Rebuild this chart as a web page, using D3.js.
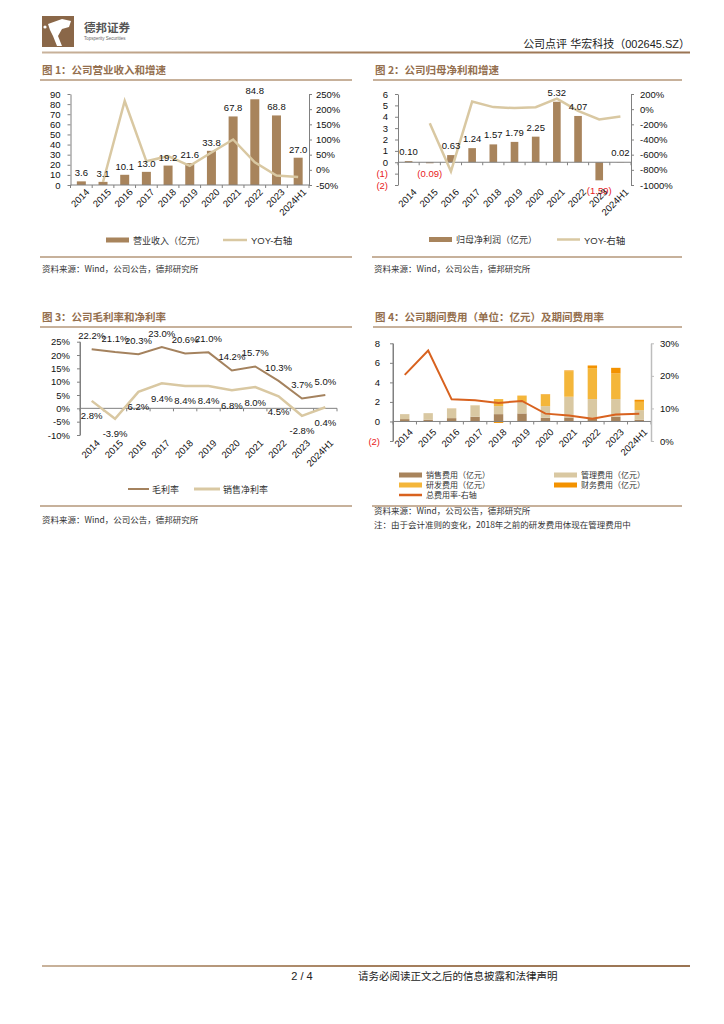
<!DOCTYPE html>
<html><head><meta charset="utf-8">
<script src="https://cdn.jsdelivr.net/npm/d3@7"></script>
<style>
body{margin:0;background:#fff}
svg{display:block}
text{font-family:"Liberation Sans","Noto Sans CJK SC",sans-serif}
.cjk{font-family:"Noto Sans CJK SC","Liberation Sans",sans-serif}
</style>
</head><body>
<svg id="c" width="724" height="1024"></svg>
<script>
// ---------- data ----------
const years = ["2014","2015","2016","2017","2018","2019","2020","2021","2022","2023","2024H1"];
const revenue = [3.6,3.1,10.1,13.0,19.2,21.6,33.8,67.8,84.8,68.8,27.0];
const revenueYoy = [null,-40,227,28,45,13,57,100,25,-19,-24];
const netProfit = [0.10,-0.09,0.63,1.24,1.57,1.79,2.25,5.32,4.07,-1.59,0.02];
const netProfitYoy = [null,-185,-820,100,27,14,26,140,-23,-135,-97];
const grossMargin = [22.2,21.1,20.3,23.0,20.6,21.0,14.2,15.7,10.3,3.7,5.0];
const netMargin = [2.8,-3.9,6.2,9.4,8.4,8.4,6.8,8.0,4.5,-2.8,0.4];
const sellingExp = [0.24,0.17,0.34,0.48,0.75,0.82,0.38,0.41,0.30,0.48,0.17];
const adminExp = [0.51,0.68,0.99,1.16,0.82,1.18,1.19,2.12,1.99,1.81,0.99];
const rdExp = [0,0,0,0,0.72,0.63,1.19,2.62,3.17,2.62,0.85];
const finExp = [-0.05,-0.02,0.01,0.01,-0.15,0.02,0.04,0.07,0.27,0.58,0.21];
const expenseRate = [20.3,27.8,12.8,12.5,11.7,12.3,8.4,7.8,6.8,8.1,8.4];

const revTicksL = [0,10,20,30,40,50,60,70,80,90];
const revTicksR = [-50,0,50,100,150,200,250];
const profTicksL = [-2,-1,0,1,2,3,4,5,6];
const profTicksR = [-1000,-800,-600,-400,-200,0,200];
const marginTicks = [-10,-5,0,5,10,15,20,25];
const expTicksL = [-2,0,2,4,6,8];
const expTicksR = [0,10,20,30];

// ---------- styles ----------
const C = {
  bar:"#A8845C", tan:"#D9C8A2", title:"#946F4E", rule:"#B4977A",
  rd:"#F4B63A", fin:"#F39200", rate:"#D8621F", red:"#E8201A", axis:"#808080"
};
const svg = d3.select("#c");

// ---------- header ----------
const grad = svg.append("defs").append("linearGradient").attr("id","hg");
grad.append("stop").attr("offset","0").attr("stop-color","#C9B39C");
grad.append("stop").attr("offset","0.5").attr("stop-color","#A5805E");
grad.append("stop").attr("offset","1").attr("stop-color","#9A7453");

const logo = svg.append("g");
logo.append("rect").attr("x",42).attr("y",16).attr("width",32).attr("height",31).attr("fill","#8A6748");
logo.append("path").attr("d","M48,24 L62,19 L71,21 L69,27 L62,29 L58,36 L62,46 L57,46 L53,36 L50,30 Z").attr("fill","#fff");
logo.append("circle").attr("cx",45).attr("cy",27).attr("r",1.6).attr("fill","#fff");
svg.append("text").attr("class","cjk").attr("x",84).attr("y",32).attr("font-size",11.5).attr("font-weight","bold").attr("fill","#555").text("德邦证券");
svg.append("text").attr("x",84).attr("y",40).attr("font-size",4.5).attr("fill","#666").text("Topsperity Securities");
svg.append("text").attr("x",690).attr("y",48).attr("text-anchor","end").attr("font-size",11).attr("fill","#222").text("公司点评 华宏科技（002645.SZ）");
svg.append("rect").attr("x",42).attr("y",51.5).attr("width",648).attr("height",2).attr("fill","url(#hg)");

// footer
svg.append("rect").attr("x",42).attr("y",965).attr("width",648).attr("height",2).attr("fill","url(#hg)");
svg.append("text").attr("x",302).attr("y",980).attr("text-anchor","middle").attr("font-size",11).attr("fill","#222").text("2 / 4");
svg.append("text").attr("class","cjk").attr("x",358).attr("y",980).attr("font-size",10.5).attr("fill","#222").text("请务必阅读正文之后的信息披露和法律声明");

// ---------- helpers ----------
function title(x, y, x2, lineY, txt){
  svg.append("text").attr("class","cjk").attr("x",x).attr("y",y).attr("font-size",10.5).attr("font-weight","bold").attr("fill",C.title).text(txt);
  svg.append("line").attr("x1",x-2).attr("x2",x2).attr("y1",lineY).attr("y2",lineY).attr("stroke",C.rule).attr("stroke-width",1.5);
}
function rule(x1,x2,y){
  svg.append("line").attr("x1",x1).attr("x2",x2).attr("y1",y).attr("y2",y).attr("stroke",C.rule).attr("stroke-width",1.5);
}
function note(x,y,txt){
  svg.append("text").attr("class","cjk").attr("x",x).attr("y",y).attr("font-size",8.5).attr("fill","#333").text(txt);
}
function styleAxis(g, negRed, color){
  g.select(".domain").attr("stroke",color||C.axis).attr("stroke-width",1);
  g.selectAll(".tick line").attr("stroke",color||C.axis);
  g.selectAll(".tick text").attr("font-size",9.5).attr("fill",d => (negRed && d<0) ? C.red : "#111")
    .attr("font-family","Liberation Sans");
}
function yAxisLeft(scale, ticks, x, fmt, negRed, pad){
  const g = svg.append("g").attr("transform",`translate(${x},0)`)
    .call(d3.axisLeft(scale).tickValues(ticks).tickFormat(fmt).tickSizeInner(3).tickSizeOuter(0).tickPadding(pad||6));
  styleAxis(g, negRed);
  return g;
}
function yAxisRight(scale, ticks, x, fmt, color, pad){
  const g = svg.append("g").attr("transform",`translate(${x},0)`)
    .call(d3.axisRight(scale).tickValues(ticks).tickFormat(fmt).tickSizeInner(3).tickSizeOuter(0).tickPadding(pad||4));
  styleAxis(g, false, color);
  return g;
}
function xBaseline(x, y){
  const r = x.range(), step = x.step();
  svg.append("line").attr("x1",r[0]).attr("x2",r[1]).attr("y1",y).attr("y2",y).attr("stroke",C.axis);
  const b = d3.range(years.length+1).map(i => r[0] + i*step);
  svg.append("g").selectAll("line").data(b).join("line")
    .attr("x1",d=>d).attr("x2",d=>d).attr("y1",y).attr("y2",y+3).attr("stroke",C.axis);
}
function xLabels(x, y){
  svg.append("g").selectAll("text").data(years).join("text")
    .attr("transform",d => `translate(${x(d)+x.bandwidth()/2+4},${y}) rotate(-45)`)
    .attr("text-anchor","end").attr("dy","0.7em").attr("font-size",9.5).attr("fill","#111").text(d=>d);
}
const cx = (x,d) => x(d) + x.bandwidth()/2;

// ================= Chart 1 =================
title(42, 74, 352, 80, "图 1：公司营业收入和增速");
{
  const x = d3.scaleBand().domain(years).range([70.5,309]).paddingInner(0.585).paddingOuter(0.2925);
  const yL = d3.scaleLinear().domain([0,90]).range([185,94]);
  const yR = d3.scaleLinear().domain([-50,250]).range([185,94]);
  svg.append("g").selectAll("rect").data(revenue).join("rect")
    .attr("x",(d,i)=>x(years[i])).attr("width",x.bandwidth())
    .attr("y",d=>yL(d)).attr("height",d=>yL(0)-yL(d)).attr("fill",C.bar);
  xBaseline(x,185);
  yAxisLeft(yL, revTicksL, 70.5, d=>d, false, 7);
  yAxisRight(yR, revTicksR, 309, d=>d+"%");
  const pts = years.map((d,i)=>[cx(x,d), revenueYoy[i]]).filter(p=>p[1]!==null);
  svg.append("path").datum(pts).attr("fill","none").attr("stroke",C.tan).attr("stroke-width",2.5)
    .attr("d",d3.line().x(p=>p[0]).y(p=>yR(p[1])));
  svg.append("g").selectAll("text").data(revenue).join("text")
    .attr("x",(d,i)=>cx(x,years[i])).attr("y",d=>yL(d)-5).attr("text-anchor","middle")
    .attr("font-size",9.5).attr("fill","#111").text(d=>d.toFixed(1));
  xLabels(x,188);
  // legend
  svg.append("rect").attr("x",106).attr("y",237.5).attr("width",23).attr("height",5).attr("fill",C.bar);
  svg.append("text").attr("class","cjk").attr("x",133).attr("y",243.5).attr("font-size",9).attr("fill","#333").text("营业收入（亿元）");
  svg.append("line").attr("x1",223).attr("x2",247).attr("y1",240).attr("y2",240).attr("stroke",C.tan).attr("stroke-width",2.5);
  svg.append("text").attr("x",251).attr("y",244).attr("font-size",9.5).attr("fill","#333").text("YOY-右轴");
  rule(40,352,257);
  note(42,271.5,"资料来源：Wind，公司公告，德邦研究所");
}

// ================= Chart 2 =================
title(375, 74, 682, 80, "图 2：公司归母净利和增速");
{
  const x = d3.scaleBand().domain(years).range([398,631]).paddingInner(0.64).paddingOuter(0.32);
  const yL = d3.scaleLinear().domain([-2,6]).range([185,94]);
  const yR = d3.scaleLinear().domain([-1000,200]).range([185,94]);
  svg.append("g").selectAll("rect").data(netProfit).join("rect")
    .attr("x",(d,i)=>x(years[i])).attr("width",x.bandwidth())
    .attr("y",d=>yL(Math.max(0,d))).attr("height",d=>Math.abs(yL(d)-yL(0))).attr("fill",C.bar);
  xBaseline(x, yL(0));
  yAxisLeft(yL, profTicksL, 398, d => d<0 ? `(${-d})` : d, true, 7);
  yAxisRight(yR, profTicksR, 631, d=>d+"%", null, 6);
  const pts = years.map((d,i)=>[cx(x,d), netProfitYoy[i]]).filter(p=>p[1]!==null);
  svg.append("path").datum(pts).attr("fill","none").attr("stroke",C.tan).attr("stroke-width",2.5)
    .attr("d",d3.line().x(p=>p[0]).y(p=>yR(p[1])));
  svg.append("g").selectAll("text").data(netProfit).join("text")
    .attr("x",(d,i)=>cx(x,years[i])).attr("y",d=> d>=0 ? yL(d)-6 : yL(d)+14).attr("text-anchor","middle")
    .attr("font-size",9.5).attr("fill",d=> d<0 ? C.red : "#111")
    .text(d=> d<0 ? `(${(-d).toFixed(2)})` : d.toFixed(2));
  xLabels(x,188);
  svg.append("rect").attr("x",429).attr("y",237).attr("width",23).attr("height",5).attr("fill",C.bar);
  svg.append("text").attr("class","cjk").attr("x",456).attr("y",243).attr("font-size",9).attr("fill","#333").text("归母净利润（亿元）");
  svg.append("line").attr("x1",557).attr("x2",580).attr("y1",239.5).attr("y2",239.5).attr("stroke",C.tan).attr("stroke-width",2.5);
  svg.append("text").attr("x",584).attr("y",243.5).attr("font-size",9.5).attr("fill","#333").text("YOY-右轴");
  rule(372,682,257);
  note(374,271.5,"资料来源：Wind，公司公告，德邦研究所");
}

// ================= Chart 3 =================
title(42, 320.5, 352, 327, "图 3：公司毛利率和净利率");
{
  const x = d3.scaleBand().domain(years).range([80,337]);
  const y = d3.scaleLinear().domain([-10,25]).range([435,341.7]);
  svg.append("line").attr("x1",80).attr("x2",80).attr("y1",341.7).attr("y2",435).attr("stroke",C.axis);
  yAxisLeft(y, marginTicks, 80, d=>d+"%", false, 7);
  xBaseline(x, y(0));
  const line = d3.line().x((d,i)=>cx(x,years[i])).y(d=>y(d));
  svg.append("path").datum(netMargin).attr("fill","none").attr("stroke",C.tan).attr("stroke-width",2.5).attr("d",line);
  svg.append("path").datum(grossMargin).attr("fill","none").attr("stroke","#A4825E").attr("stroke-width",2).attr("d",line);
  svg.append("g").selectAll("text").data(grossMargin).join("text")
    .attr("x",(d,i)=>cx(x,years[i])).attr("y",d=>y(d)-10).attr("text-anchor","middle")
    .attr("font-size",9.5).attr("fill","#111").text(d=>d.toFixed(1)+"%");
  svg.append("g").selectAll("text").data(netMargin).join("text")
    .attr("x",(d,i)=>cx(x,years[i])).attr("y",d=>y(d)+18.5).attr("text-anchor","middle")
    .attr("font-size",9.5).attr("fill","#111").text(d=>d.toFixed(1)+"%");
  xLabels(x,439);
  svg.append("line").attr("x1",128).attr("x2",149).attr("y1",489).attr("y2",489).attr("stroke","#A4825E").attr("stroke-width",2);
  svg.append("text").attr("class","cjk").attr("x",152).attr("y",492.5).attr("font-size",9).attr("fill","#333").text("毛利率");
  svg.append("line").attr("x1",194).attr("x2",220).attr("y1",489).attr("y2",489).attr("stroke",C.tan).attr("stroke-width",3);
  svg.append("text").attr("class","cjk").attr("x",223).attr("y",492.5).attr("font-size",9).attr("fill","#333").text("销售净利率");
  rule(40,352,506);
  note(42,522.5,"资料来源：Wind，公司公告，德邦研究所");
}

// ================= Chart 4 =================
title(375, 320.5, 682, 327, "图 4：公司期间费用（单位：亿元）及期间费用率");
{
  const x = d3.scaleBand().domain(years).range([393,651]).paddingInner(0.6).paddingOuter(0.3);
  const yL = d3.scaleLinear().domain([-2,8]).range([441,343.3]);
  const yR = d3.scaleLinear().domain([0,30]).range([441,343.3]);
  const keys = ["sell","admin","rd","fin"];
  const colors = {sell:C.bar, admin:C.tan, rd:C.rd, fin:C.fin};
  const rows = years.map((d,i)=>({year:d, sell:sellingExp[i], admin:adminExp[i], rd:rdExp[i], fin:finExp[i]}));
  const series = d3.stack().keys(keys).offset(d3.stackOffsetDiverging)(rows);
  svg.append("g").selectAll("g").data(series).join("g").attr("fill",s=>colors[s.key])
    .selectAll("rect").data(s=>s).join("rect")
    .attr("x",d=>x(d.data.year)).attr("width",x.bandwidth())
    .attr("y",d=>yL(Math.max(d[0],d[1]))).attr("height",d=>Math.abs(yL(d[0])-yL(d[1])));
  xBaseline(x, yL(0));
  svg.append("line").attr("x1",393).attr("x2",393).attr("y1",343.3).attr("y2",441).attr("stroke",C.axis);
  yAxisLeft(yL, expTicksL, 393, d => d<0 ? `(${-d})` : d, true, 10);
  const gr = yAxisRight(yR, expTicksR, 651, d=>d+"%", "#BDBDBD", 6);
  gr.select(".domain").attr("stroke-width",1.5);
  svg.append("path").datum(expenseRate).attr("fill","none").attr("stroke",C.rate).attr("stroke-width",2)
    .attr("d",d3.line().x((d,i)=>cx(x,years[i])).y(d=>yR(d)));
  xLabels(x,428);
  const lg = [
    {x:399,y:475,k:"sell",t:"销售费用（亿元）"},{x:554,y:475,k:"admin",t:"管理费用（亿元）"},
    {x:399,y:485,k:"rd",t:"研发费用（亿元）"},{x:554,y:485,k:"fin",t:"财务费用（亿元）"}];
  lg.forEach(l=>{
    svg.append("rect").attr("x",l.x).attr("y",l.y-2.5).attr("width",23).attr("height",5).attr("fill",colors[l.k]);
    svg.append("text").attr("class","cjk").attr("x",l.x+27).attr("y",l.y+3).attr("font-size",8).attr("fill","#333").text(l.t);
  });
  svg.append("line").attr("x1",399).attr("x2",422).attr("y1",495).attr("y2",495).attr("stroke",C.rate).attr("stroke-width",2.5);
  svg.append("text").attr("class","cjk").attr("x",426).attr("y",498).attr("font-size",8).attr("fill","#333").text("总费用率-右轴");
  rule(372,682,506);
  note(374,514,"资料来源：Wind，公司公告，德邦研究所");
  note(374,527.5,"注：由于会计准则的变化，2018年之前的研发费用体现在管理费用中");
}
</script>
</body></html>
